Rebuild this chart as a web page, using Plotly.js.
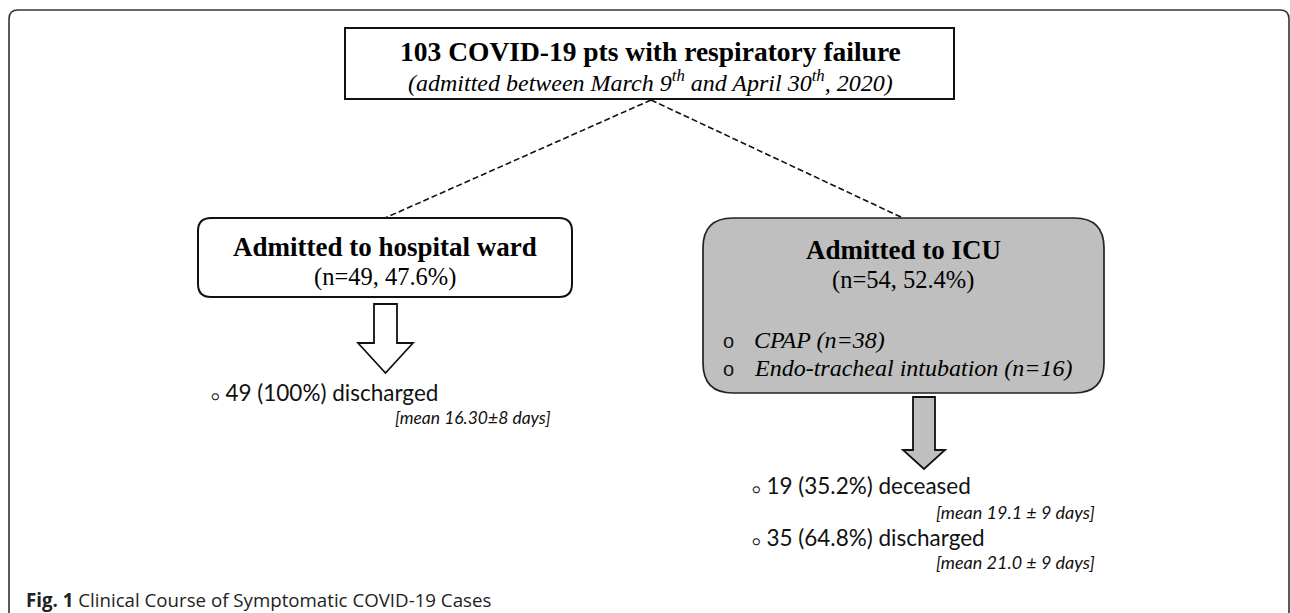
<!DOCTYPE html>
<html>
<head>
<meta charset="utf-8">
<script src="https://cdn.plot.ly/plotly-3.0.1.min.js"></script>
<style>html,body{margin:0;padding:0;background:#fff;}#chart{width:1290px;height:613px;}</style>
</head>
<body>
<div id="chart"></div>
<script>
// ---- data ----
const totalPatients = 103;
const admissionPeriod = ["March 9", "th", "April 30", "th", "2020"];
const groupNames = ["Admitted to hospital ward", "Admitted to ICU"];
const groupCounts = [49, 54];
const groupPercents = [47.6, 52.4];
const icuTreatments = ["CPAP", "Endo-tracheal intubation"];
const icuTreatmentCounts = [38, 16];
const outcomeLabels = ["discharged", "deceased", "discharged"];
const outcomeCounts = [49, 19, 35];
const outcomePercents = ["100", "35.2", "64.8"];
const outcomeMeanDays = ["16.30", "19.1", "21.0"];
const outcomeSdDays = [8, 9, 9];
const captionBold = "Fig. 1";
const captionText = "Clinical Course of Symptomatic COVID-19 Cases";

// ---- helpers ----
function roundRect(x0, y0, x1, y1, r) {
  return `M ${x0 + r} ${y0} L ${x1 - r} ${y0} Q ${x1} ${y0} ${x1} ${y0 + r} L ${x1} ${y1 - r} Q ${x1} ${y1} ${x1 - r} ${y1} L ${x0 + r} ${y1} Q ${x0} ${y1} ${x0} ${y1 - r} L ${x0} ${y0 + r} Q ${x0} ${y0} ${x0 + r} ${y0} Z`;
}
function downArrow(cx, shaftW, top, headTop, headW, tip) {
  const s = shaftW / 2, h = headW / 2;
  return `M ${cx - s} ${top} L ${cx + s} ${top} L ${cx + s} ${headTop} L ${cx + h} ${headTop} L ${cx} ${tip} L ${cx - h} ${headTop} L ${cx - s} ${headTop} Z`;
}

const SERIF = "Liberation Serif, Times New Roman, serif";
const SANS = "Lato, Open Sans, sans-serif";
const CAP = "Open Sans, Noto Sans, sans-serif";
const bulletSans = '<span style="font-size:13px">○</span>';

const shapes = [
  // outer frame
  {type: "path", path: "M 9 640 L 9 19 Q 9 10 18 10 L 1280 10 Q 1289 10 1289 19 L 1289 640",
   line: {color: "#333", width: 1.6}, fillcolor: "rgba(0,0,0,0)"},
  // top box
  {type: "rect", x0: 345, x1: 954, y0: 28, y1: 99, line: {color: "#111", width: 2}, fillcolor: "#fff"},
  // dashed connectors
  {type: "line", x0: 651, y0: 100, x1: 385, y1: 218, line: {color: "#111", width: 1.6, dash: "6px,3px"}},
  {type: "line", x0: 651, y0: 100, x1: 903, y1: 218, line: {color: "#111", width: 1.6, dash: "6px,3px"}},
  // ward box
  {type: "path", path: roundRect(198, 218, 572, 297, 13), line: {color: "#111", width: 2}, fillcolor: "#fff"},
  // ICU box
  {type: "path", path: roundRect(703, 218, 1104, 393, 30), line: {color: "#222", width: 1.7}, fillcolor: "#bfbfbf"},
  // arrows
  {type: "path", path: downArrow(385.5, 23, 304, 343, 55, 373), line: {color: "#111", width: 1.8}, fillcolor: "#fff"},
  {type: "path", path: downArrow(924, 22, 397, 450, 42, 469), line: {color: "#111", width: 1.8}, fillcolor: "#bfbfbf"}
];

const annotations = [
  {x: 650, y: 51, text: `<b>${totalPatients} COVID-19 pts with respiratory failure</b>`,
   font: {family: SERIF, size: 27.5, color: "#000"}, xanchor: "center"},
  {x: 650, y: 81, text: `<i>(admitted between ${admissionPeriod[0]}<sup>${admissionPeriod[1]}</sup> and ${admissionPeriod[2]}<sup>${admissionPeriod[3]}</sup>, ${admissionPeriod[4]})</i>`,
   font: {family: SERIF, size: 24, color: "#000"}, xanchor: "center"},

  {x: 385, y: 247, text: `<b>${groupNames[0]}</b>`, font: {family: SERIF, size: 27, color: "#000"}, xanchor: "center"},
  {x: 385, y: 277, text: `(n=${groupCounts[0]}, ${groupPercents[0]}%)`, font: {family: SERIF, size: 24.5, color: "#000"}, xanchor: "center"},

  {x: 903, y: 250, text: `<b>${groupNames[1]}</b>`, font: {family: SERIF, size: 27, color: "#000"}, xanchor: "center"},
  {x: 903, y: 280, text: `(n=${groupCounts[1]}, ${groupPercents[1]}%)`, font: {family: SERIF, size: 24.5, color: "#000"}, xanchor: "center"},

  {x: 728, y: 341, text: "o", font: {family: "Liberation Sans, sans-serif", size: 20, color: "#111"}, xanchor: "center"},
  {x: 752, y: 340, text: `<i>${icuTreatments[0]} (n=${icuTreatmentCounts[0]})</i>`, font: {family: SERIF, size: 24, color: "#000"}, xanchor: "left"},
  {x: 728, y: 369, text: "o", font: {family: "Liberation Sans, sans-serif", size: 20, color: "#111"}, xanchor: "center"},
  {x: 752, y: 368, text: `<i>${icuTreatments[1]} (n=${icuTreatmentCounts[1]})</i>`, font: {family: SERIF, size: 24, color: "#000"}, xanchor: "left"},

  {x: 209, y: 392, text: `${bulletSans} ${outcomeCounts[0]} (${outcomePercents[0]}%) ${outcomeLabels[0]}`, font: {family: SANS, size: 22.5, color: "#111"}, xanchor: "left"},
  {x: 553, y: 417, text: `<i>[mean ${outcomeMeanDays[0]}±${outcomeSdDays[0]} days]</i>`, font: {family: SANS, size: 17.5, color: "#111"}, xanchor: "right"},

  {x: 750, y: 485, text: `${bulletSans} ${outcomeCounts[1]} (${outcomePercents[1]}%) ${outcomeLabels[1]}`, font: {family: SANS, size: 22.5, color: "#111"}, xanchor: "left"},
  {x: 1097, y: 512, text: `<i>[mean ${outcomeMeanDays[1]} ± ${outcomeSdDays[1]} days]</i>`, font: {family: SANS, size: 18, color: "#111"}, xanchor: "right"},
  {x: 750, y: 537, text: `${bulletSans} ${outcomeCounts[2]} (${outcomePercents[2]}%) ${outcomeLabels[2]}`, font: {family: SANS, size: 22.5, color: "#111"}, xanchor: "left"},
  {x: 1097, y: 562, text: `<i>[mean ${outcomeMeanDays[2]} ± ${outcomeSdDays[2]} days]</i>`, font: {family: SANS, size: 18, color: "#111"}, xanchor: "right"},

  {x: 24, y: 599, text: `<b>${captionBold}</b> ${captionText}`, font: {family: CAP, size: 18.7, color: "#222"}, xanchor: "left"}
].map(a => Object.assign({xref: "x", yref: "y", showarrow: false, yanchor: "middle"}, a));

const layout = {
  width: 1290, height: 613,
  margin: {l: 0, r: 0, t: 0, b: 0, pad: 0},
  paper_bgcolor: "#fff", plot_bgcolor: "#fff",
  xaxis: {range: [0, 1290], visible: false, fixedrange: true},
  yaxis: {range: [613, 0], visible: false, fixedrange: true},
  showlegend: false,
  shapes: shapes,
  annotations: annotations
};

Plotly.newPlot("chart", [], layout, {staticPlot: true, displayModeBar: false});
</script>
</body>
</html>
